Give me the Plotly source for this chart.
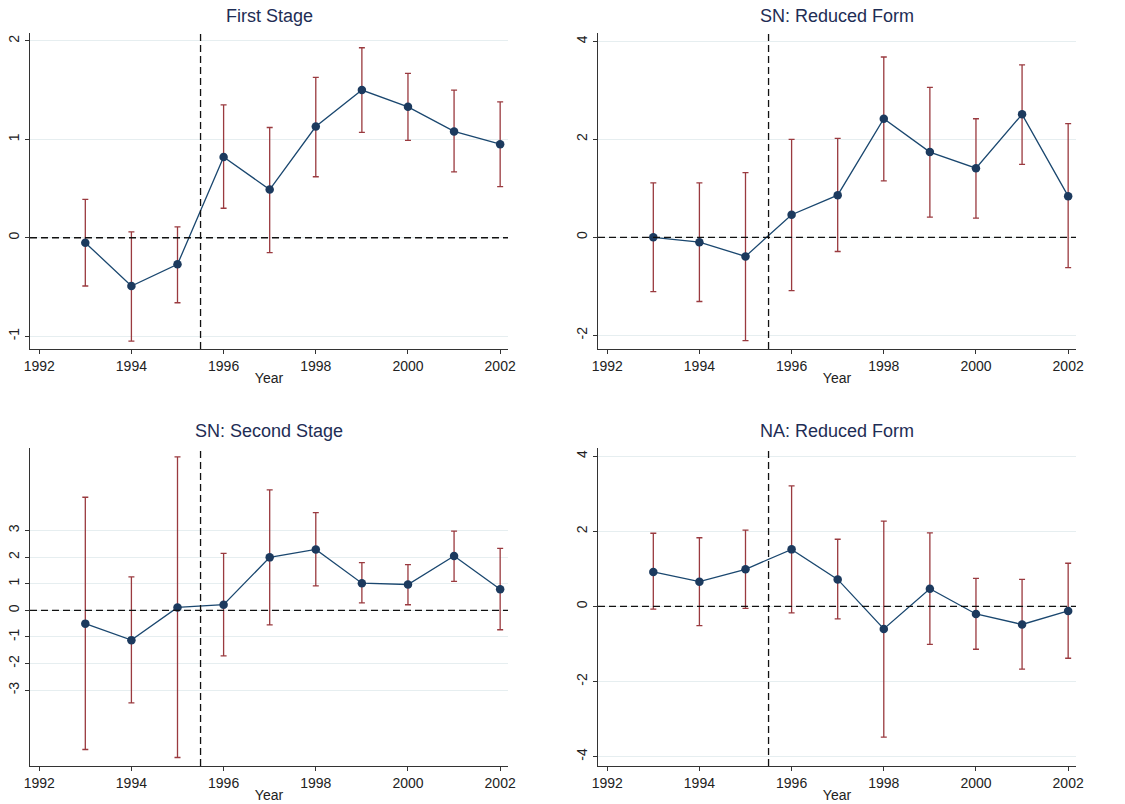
import plotly.graph_objects as go

years = [1993, 1994, 1995, 1996, 1997, 1998, 1999, 2000, 2001, 2002]

fs_est = [-0.05, -0.49, -0.27, 0.82, 0.49, 1.13, 1.50, 1.33, 1.08, 0.95]
fs_hi = [0.39, 0.06, 0.11, 1.35, 1.12, 1.63, 1.93, 1.67, 1.50, 1.38]
fs_lo = [-0.49, -1.05, -0.66, 0.30, -0.15, 0.62, 1.07, 0.99, 0.67, 0.52]

snrf_est = [0.00, -0.10, -0.39, 0.46, 0.86, 2.42, 1.74, 1.41, 2.51, 0.84]
snrf_hi = [1.11, 1.11, 1.32, 2.00, 2.02, 3.68, 3.06, 2.42, 3.52, 2.32]
snrf_lo = [-1.11, -1.31, -2.11, -1.09, -0.29, 1.15, 0.41, 0.39, 1.49, -0.62]

ss_est = [-0.50, -1.12, 0.11, 0.21, 1.99, 2.29, 1.02, 0.97, 2.04, 0.79]
ss_hi = [4.25, 1.26, 5.77, 2.14, 4.53, 3.67, 1.79, 1.72, 2.98, 2.33]
ss_lo = [-5.23, -3.48, -5.53, -1.71, -0.55, 0.92, 0.28, 0.21, 1.09, -0.73]

narf_est = [0.92, 0.66, 0.99, 1.52, 0.72, -0.60, 0.47, -0.20, -0.48, -0.12]
narf_hi = [1.95, 1.83, 2.03, 3.21, 1.79, 2.27, 1.96, 0.75, 0.72, 1.15]
narf_lo = [-0.07, -0.51, -0.05, -0.17, -0.33, -3.48, -1.01, -1.14, -1.67, -1.38]

titles = ["First Stage", "SN: Reduced Form", "SN: Second Stage", "NA: Reduced Form"]
x_ticks = [1992, 1994, 1996, 1998, 2000, 2002]
y_ticks = [[-1, 0, 1, 2], [-2, 0, 2, 4], [-3, -2, -1, 0, 1, 2, 3], [-4, -2, 0, 2, 4]]
y_ranges = [[-1.13, 2.08], [-2.28, 4.17], [-5.85, 6.1], [-4.25, 4.22]]
x_range = [1991.8, 2002.17]
event_year = 1995.5

panels = [
    (fs_est, fs_hi, fs_lo),
    (snrf_est, snrf_hi, snrf_lo),
    (ss_est, ss_hi, ss_lo),
    (narf_est, narf_hi, narf_lo),
]

W, H = 1125, 804


def fx(p):
    return p / W


def fy(p):
    return 1 - p / H


xdoms = [[fx(30), fx(508)], [fx(598), fx(1076)]]
ydoms = [[fy(349), fy(33)], [fy(766), fy(448)]]

LINE = "#1a476f"
MARK = "#1c3a5e"
ERR = "#9a3a3f"
GRID = "#e6eef0"
AX = "#333333"
FONT = "Liberation Sans, Arial, sans-serif"

fig = go.Figure()
layout = dict(
    template="none",
    width=W, height=H,
    margin=dict(l=0, r=0, t=0, b=0, autoexpand=False),
    paper_bgcolor="white", plot_bgcolor="white",
    showlegend=False,
    font=dict(family=FONT, size=14, color="#222222"),
)
annotations = []
shapes = []

for i, (est, hi, lo) in enumerate(panels):
    r, c = divmod(i, 2)
    sfx = "" if i == 0 else str(i + 1)
    xa, ya = "x" + sfx, "y" + sfx
    plus = [h - e for h, e in zip(hi, est)]
    minus = [e - l for e, l in zip(est, lo)]
    fig.add_trace(go.Scatter(
        x=years, y=est, mode="lines+markers",
        line=dict(color=LINE, width=1.3),
        marker=dict(color=MARK, size=8.5, line=dict(width=0)),
        error_y=dict(type="data", array=plus, arrayminus=minus, symmetric=False,
                     color=ERR, thickness=1.3, width=3),
        xaxis=xa, yaxis=ya,
    ))
    layout["xaxis" + sfx] = dict(
        domain=xdoms[c], anchor=ya, range=x_range, automargin=False,
        tickvals=x_ticks, ticktext=[str(t) for t in x_ticks],
        ticks="outside", ticklen=4, tickwidth=1, tickcolor=AX,
        showline=True, linecolor=AX, linewidth=1.2, showgrid=False, zeroline=False,
        tickfont=dict(size=14, color="#222222"),
        title=dict(text="Year", font=dict(size=14, color="#222222"), standoff=0),
    )
    layout["yaxis" + sfx] = dict(
        domain=ydoms[r], anchor=xa, range=y_ranges[i], automargin=False,
        tickvals=y_ticks[i], ticktext=[str(t) for t in y_ticks[i]],
        tickangle=-90, ticks="outside", ticklen=4, tickwidth=1, tickcolor=AX,
        showline=True, linecolor=AX, linewidth=1.2, showgrid=True, gridcolor=GRID,
        gridwidth=1, zeroline=False, tickfont=dict(size=14, color="#222222"),
    )
    shapes.append(dict(type="line", xref=xa + " domain", yref=ya, x0=0, x1=1, y0=0, y1=0,
                       line=dict(color="#111111", width=1.3, dash="7px,4px")))
    shapes.append(dict(type="line", xref=xa, yref=ya + " domain", x0=event_year, x1=event_year,
                       y0=0, y1=1, line=dict(color="#111111", width=1.3, dash="7px,4px")))
    annotations.append(dict(
        text=titles[i], xref=xa + " domain", yref=ya + " domain", x=0.5, y=1,
        yshift=5, xanchor="center", yanchor="bottom", showarrow=False,
        font=dict(size=18, color="#1e2d55", family=FONT),
    ))

layout["annotations"] = annotations
layout["shapes"] = shapes
fig.update_layout(**layout)
fig.write_html(
    "out.html",
    config={"displayModeBar": False},
    post_script="document.body.style.margin='0';document.body.style.overflow='hidden';",
)
